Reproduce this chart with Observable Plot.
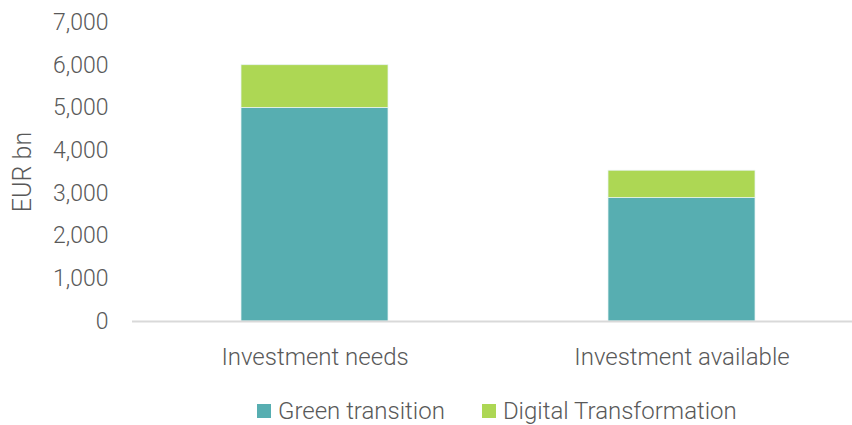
<!DOCTYPE html>
<html>
<head>
<meta charset="utf-8">
<script src="https://cdn.jsdelivr.net/npm/d3@7"></script>
<script src="https://cdn.jsdelivr.net/npm/@observablehq/plot@0.6"></script>
<style>
  html, body { margin: 0; padding: 0; background: #fff; }
  #wrap { position: relative; width: 852px; height: 425px; font-family: Roboto, "Noto Sans", sans-serif; font-weight: 300; color: #595959; }
  #legend { position: absolute; left: 257px; top: 397px; height: 28px; display: flex; align-items: center; font-size: 24px; }
  .item { display: flex; align-items: center; margin-right: 37px; }
  .sw { width: 14px; height: 14px; margin-right: 7px; }
</style>
</head>
<body>
<div id="wrap"></div>
<script>
const categories = ["Investment needs", "Investment available"];
const seriesNames = ["Green transition", "Digital Transformation"];
const greenTransition = [5000, 2890];
const digitalTransformation = [1000, 640];
const seriesColors = ["#57aeb1", "#add754"];
const yTicks = [0, 1000, 2000, 3000, 4000, 5000, 6000, 7000];
const yTitle = "EUR bn";

const seriesValues = [greenTransition, digitalTransformation];
const data = [];
seriesNames.forEach((s, si) => {
  categories.forEach((c, ci) => data.push({category: c, series: s, value: seriesValues[si][ci]}));
});

const plot = Plot.plot({
  width: 852,
  height: 385,
  marginLeft: 132,
  marginRight: 0,
  marginTop: 22,
  marginBottom: 64,
  style: {fontFamily: "Roboto, 'Noto Sans', sans-serif", fontWeight: 300, color: "#595959", fontSize: "23px", background: "#fff"},
  x: {domain: categories, paddingInner: 0.6, paddingOuter: 0.28, align: 0.53, label: null},
  y: {domain: [0, 7000], ticks: yTicks, tickFormat: d3.format(","), label: null},
  color: {domain: seriesNames, range: seriesColors},
  marks: [
    Plot.barY(data, {x: "category", y: "value", fill: "series", stroke: "#e8f3f3", strokeWidth: 0.75}),
    Plot.ruleY([0], {stroke: "#d9d9d9", strokeWidth: 2}),
    Plot.axisY({ticks: yTicks, tickFormat: d3.format(","), tickSize: 0, tickPadding: 24, fontSize: 23, label: null}),
    Plot.axisX({tickSize: 0, tickPadding: 26, fontSize: 24, label: null}),
    Plot.text([yTitle], {frameAnchor: "left", textAnchor: "middle", rotate: -90, dx: -110, fontSize: 25, fill: "#595959"})
  ]
});
document.getElementById("wrap").appendChild(plot);

const legend = document.createElement("div");
legend.id = "legend";
seriesNames.forEach((s, i) => {
  const item = document.createElement("div");
  item.className = "item";
  const sw = document.createElement("div");
  sw.className = "sw";
  sw.style.background = seriesColors[i];
  const t = document.createElement("span");
  t.textContent = s;
  item.appendChild(sw);
  item.appendChild(t);
  legend.appendChild(item);
});
document.getElementById("wrap").appendChild(legend);
</script>
</body>
</html>
